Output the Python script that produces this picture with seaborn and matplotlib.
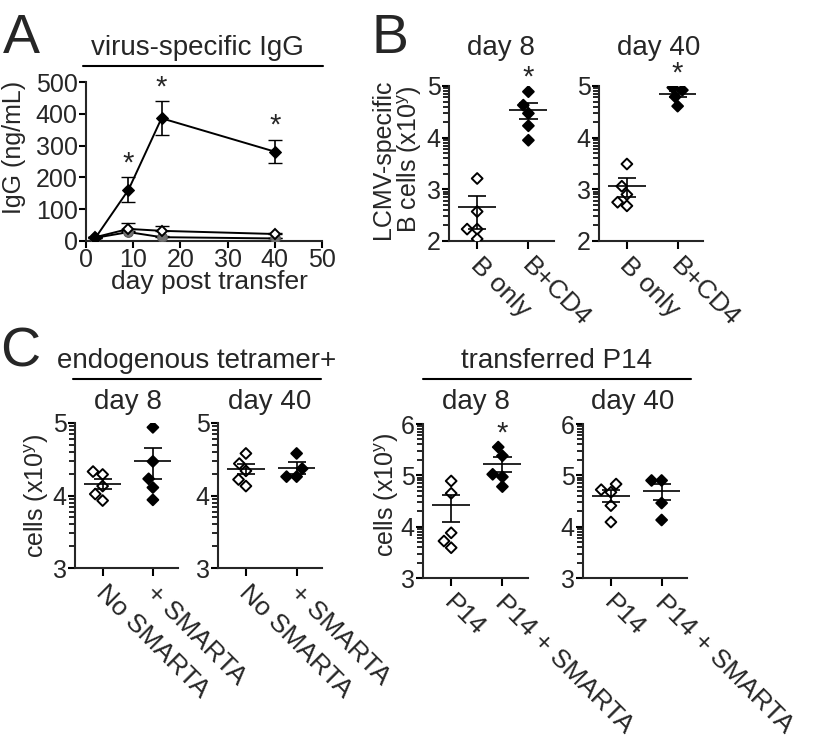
import numpy as np
import pandas as pd
import matplotlib
matplotlib.use('Agg')
import matplotlib.pyplot as plt
from matplotlib import ticker, transforms
from matplotlib.lines import Line2D
import seaborn as sns

# -------------------------------
# data
# -------------------------------
# A: virus-specific IgG (ng/mL) vs day post transfer
igg_days = [2, 9, 16, 40]
igg_filled = [10, 161, 386, 281]
igg_filled_lo = [8, 122, 333, 246]
igg_filled_hi = [12, 200, 439, 319]
igg_open = [12, 38, 32, 22]
igg_open_hi = [14, 56, 48, 25]
igg_grey = [10, 28, 12, 8]
igg_grey_hi = [12, 33, 15, 10]

# B: LCMV-specific B cells, log10 values
b_groups = ['B only', 'B+CD4']
b_d8_open = [3.21, 2.57, 2.23, 2.23, 2.04]
b_d8_filled = [4.89, 4.63, 4.47, 4.23, 3.95]
b_d8_mean = [2.66, 4.54]
b_d8_lo = [2.24, 4.36]
b_d8_hi = [2.87, 4.68]
b_d40_open = [3.49, 3.06, 2.90, 2.75, 2.68]
b_d40_filled = [4.97, 4.92, 4.79, 4.61]
b_d40_mean = [3.07, 4.85]
b_d40_lo = [2.86, 4.78]
b_d40_hi = [3.21, 4.90]

# C: endogenous tetramer+ cells, log10 values
endo_groups = ['No SMARTA', '+ SMARTA']
endo_d8_open = [4.29, 4.33, 4.13, 4.02, 3.93]
endo_d8_filled = [4.94, 4.47, 4.23, 4.11, 3.94]
endo_d8_mean = [4.16, 4.47]
endo_d8_lo = [4.09, 4.23]
endo_d8_hi = [4.23, 4.66]
endo_d40_open = [4.58, 4.44, 4.34, 4.22, 4.13]
endo_d40_filled = [4.58, 4.37, 4.26, 4.26]
endo_d40_mean = [4.37, 4.38]
endo_d40_lo = [4.29, 4.30]
endo_d40_hi = [4.44, 4.46]

# C: transferred P14 cells, log10 values
p14_groups = ['P14', 'P14 + SMARTA']
p14_d8_open = [4.89, 4.65, 3.88, 3.72, 3.59]
p14_d8_filled = [5.55, 5.38, 5.02, 4.97, 4.78]
p14_d8_mean = [4.42, 5.22]
p14_d8_lo = [4.10, 5.06]
p14_d8_hi = [4.62, 5.35]
p14_d40_open = [4.83, 4.72, 4.67, 4.41, 4.09]
p14_d40_filled = [4.90, 4.90, 4.46, 4.13]
p14_d40_mean = [4.60, 4.70]
p14_d40_lo = [4.49, 4.51]
p14_d40_hi = [4.71, 4.83]

# -------------------------------
# style
# -------------------------------
sns.set_style('ticks')
plt.rcParams['font.family'] = ['Liberation Sans', 'DejaVu Sans']
plt.rcParams['mathtext.fontset'] = 'custom'
plt.rcParams['mathtext.rm'] = 'Liberation Sans'
plt.rcParams['axes.linewidth'] = 1.5

TICK_FS = 18
TEXT_FS = 19
LETTER_FS = 40

W, H = 815, 745
fig = plt.figure(figsize=(W / 100, H / 100), dpi=100)


def px_axes(left, top, right, bottom):
    return fig.add_axes([left / W, 1 - bottom / H, (right - left) / W, (bottom - top) / H])


def ftext(x, y, s, **kw):
    fig.text(x / W, 1 - y / H, s, **kw)


def hline(x0, x1, y):
    fig.add_artist(Line2D([x0 / W, x1 / W], [1 - y / H, 1 - y / H], color='black', lw=1.5))


def style_axes(ax):
    sns.despine(ax=ax)
    ax.tick_params(which='major', length=5, width=1.5, labelsize=TICK_FS, pad=1, color='black')
    ax.tick_params(which='minor', length=4, width=1.2, color='black', left=True)
    ax.set_facecolor('none')


def set_ylab(ax, text, x, y, **kw):
    ax.set_ylabel(text, fontsize=TEXT_FS - 1, **kw)
    ax.yaxis.set_label_coords(x, y)
    ax.yaxis.label.set_va('center')
    ax.yaxis.label.set_ha('center')


def star(ax, x, y):
    ax.annotate('*', (x, y), xytext=(0, 0), textcoords='offset points',
                ha='center', va='bottom', fontsize=TEXT_FS + 2)


def dot_panel(ax, groups, open_vals, filled_vals, means, lo, hi, ymin, ymax, sig=False):
    df = pd.DataFrame({
        'group': [groups[0]] * len(open_vals) + [groups[1]] * len(filled_vals),
        'cells': 10 ** np.array(open_vals + filled_vals),
    })
    ax.set_yscale('log')
    sns.swarmplot(data=df, x='group', y='cells', hue='group', order=groups, hue_order=groups,
                  palette=['white', 'black'], marker='D', size=5.5, edgecolor='black',
                  linewidth=1.4, legend=False, ax=ax, zorder=3)
    # mean line and SEM bar
    for i in range(2):
        ax.hlines(10 ** means[i], i - 0.37, i + 0.37, color='black', lw=1.2, zorder=4)
        ax.vlines(i, 10 ** lo[i], 10 ** hi[i], color='black', lw=1.2, zorder=4)
        ax.hlines([10 ** lo[i], 10 ** hi[i]], i - 0.18, i + 0.18, color='black', lw=1.2, zorder=4)
    ax.set_xlim(-0.55, 1.5)
    ax.set_ylim(10 ** ymin, 10 ** ymax)
    decades = range(ymin, ymax + 1)
    ax.yaxis.set_major_locator(ticker.FixedLocator([10.0 ** k for k in decades]))
    ax.yaxis.set_major_formatter(ticker.FuncFormatter(lambda v, p: f'{np.log10(v):.0f}'))
    ax.yaxis.set_minor_locator(ticker.FixedLocator(
        [m * 10.0 ** k for k in range(ymin, ymax) for m in range(2, 10)]))
    ax.yaxis.set_minor_formatter(ticker.NullFormatter())
    ax.set_xlabel('')
    ax.set_ylabel('')
    style_axes(ax)
    ax.tick_params(axis='x', length=6, pad=9)
    ax.set_xticks([0, 1])
    ax.set_xticklabels(groups, rotation=-45, ha='left', va='center', rotation_mode='anchor',
                       fontsize=TEXT_FS)
    shift = transforms.ScaledTranslation(-0.03, 0, fig.dpi_scale_trans)
    for lab in ax.get_xticklabels():
        lab.set_transform(lab.get_transform() + shift)
    if sig:
        star(ax, 1, 10 ** max(filled_vals))


# -------------------------------
# A
# -------------------------------
axA = px_axes(86, 82, 322, 241)
sns.lineplot(x=igg_days, y=igg_grey, ax=axA, color='black', lw=1.4, marker='o', markersize=7,
             markerfacecolor='0.45', markeredgecolor='0.35', zorder=3)
axA.errorbar(igg_days, igg_grey, yerr=[np.zeros(4), np.subtract(igg_grey_hi, igg_grey)],
             fmt='none', ecolor='black', elinewidth=1.2, capsize=5, zorder=2)
sns.lineplot(x=igg_days, y=igg_open, ax=axA, color='black', lw=1.4, marker='D', markersize=5.5,
             markerfacecolor='white', markeredgecolor='black', markeredgewidth=1.4, zorder=4)
axA.errorbar(igg_days, igg_open, yerr=[np.zeros(4), np.subtract(igg_open_hi, igg_open)],
             fmt='none', ecolor='black', elinewidth=1.2, capsize=5, zorder=2)
sns.lineplot(x=igg_days, y=igg_filled, ax=axA, color='black', lw=1.4, marker='D', markersize=6,
             markerfacecolor='black', markeredgecolor='black', zorder=5)
axA.errorbar(igg_days, igg_filled,
             yerr=[np.subtract(igg_filled, igg_filled_lo), np.subtract(igg_filled_hi, igg_filled)],
             fmt='none', ecolor='black', elinewidth=1.2, capsize=5, zorder=5)
for d, v in zip(igg_days[1:], igg_filled_hi[1:]):
    star(axA, d, v)
axA.set_xlim(0, 50)
axA.set_ylim(0, 500)
axA.set_xticks(range(0, 51, 10))
axA.set_yticks(range(0, 501, 100))
style_axes(axA)
axA.tick_params(axis='x', pad=0)
set_ylab(axA, 'IgG (ng/mL)', -0.305, 0.59)
axA.set_xlabel('day post transfer', fontsize=TEXT_FS)
axA.xaxis.set_label_coords(0.523, -0.18)

ftext(3, 53, 'A', fontsize=LETTER_FS)
ftext(197, 55, 'virus-specific IgG', fontsize=TEXT_FS + 1, ha='center')
hline(83, 323, 66)

# -------------------------------
# B
# -------------------------------
axB1 = px_axes(449, 86, 554, 241)
dot_panel(axB1, b_groups, b_d8_open, b_d8_filled, b_d8_mean, b_d8_lo, b_d8_hi, 2, 5, sig=True)
set_ylab(axB1, 'LCMV-specific\nB cells (x10$^\\mathrm{y}$)', -0.49, 0.53, linespacing=1.05)
axB2 = px_axes(599, 86, 703, 241)
dot_panel(axB2, b_groups, b_d40_open, b_d40_filled, b_d40_mean, b_d40_lo, b_d40_hi, 2, 5, sig=True)

ftext(371, 53, 'B', fontsize=LETTER_FS)
ftext(501, 55, 'day 8', fontsize=TEXT_FS + 1, ha='center')
ftext(659, 55, 'day 40', fontsize=TEXT_FS + 1, ha='center')

# -------------------------------
# C
# -------------------------------
axC1 = px_axes(75, 423, 178, 568)
dot_panel(axC1, endo_groups, endo_d8_open, endo_d8_filled, endo_d8_mean, endo_d8_lo, endo_d8_hi, 3, 5)
set_ylab(axC1, 'cells (x10$^\\mathrm{y}$)', -0.37, 0.50)
axC2 = px_axes(218, 423, 322, 568)
dot_panel(axC2, endo_groups, endo_d40_open, endo_d40_filled, endo_d40_mean, endo_d40_lo, endo_d40_hi, 3, 5)

axC3 = px_axes(423, 424, 528, 578)
dot_panel(axC3, p14_groups, p14_d8_open, p14_d8_filled, p14_d8_mean, p14_d8_lo, p14_d8_hi, 3, 6, sig=True)
set_ylab(axC3, 'cells (x10$^\\mathrm{y}$)', -0.35, 0.54)
axC4 = px_axes(583, 424, 687, 578)
dot_panel(axC4, p14_groups, p14_d40_open, p14_d40_filled, p14_d40_mean, p14_d40_lo, p14_d40_hi, 3, 6)

ftext(0, 366, 'C', fontsize=LETTER_FS)
ftext(197, 368, 'endogenous tetramer+', fontsize=TEXT_FS + 1, ha='center')
hline(73, 321, 379)
ftext(557, 368, 'transferred P14', fontsize=TEXT_FS + 1, ha='center')
hline(423, 691, 379)
ftext(128, 409, 'day 8', fontsize=TEXT_FS + 1, ha='center')
ftext(270, 409, 'day 40', fontsize=TEXT_FS + 1, ha='center')
ftext(476, 409, 'day 8', fontsize=TEXT_FS + 1, ha='center')
ftext(633, 409, 'day 40', fontsize=TEXT_FS + 1, ha='center')

fig.savefig('out.png', dpi=100, facecolor='white')
